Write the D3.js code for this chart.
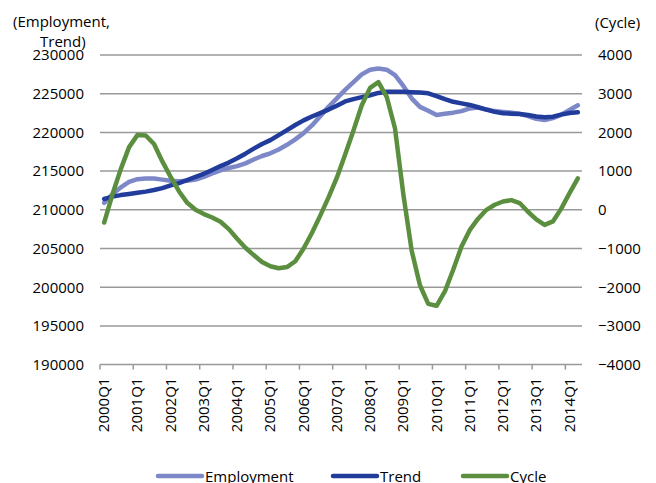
<!DOCTYPE html>
<html>
<head>
<meta charset="utf-8">
<script src="https://cdn.jsdelivr.net/npm/d3@7"></script>
<style>
  body { margin: 0; background: #fff; }
  text { font-family: "Open Sans", sans-serif; fill: #000; }
</style>
</head>
<body>
<div id="container"></div>
<script>
// quarters 2000Q1 .. 2014Q2
var quarters = [];
d3.range(2000, 2015).forEach(function (y) {
    [1, 2, 3, 4].forEach(function (q) { quarters.push(y + "Q" + q); });
});
quarters = quarters.slice(0, 58);

var employment = [
    210900, 212000, 212900, 213600, 213950, 214050, 214050, 213900, 213750, 213700,
    213750, 213900, 214250, 214700, 215100, 215400, 215650, 216000, 216500, 216950,
    217300, 217800, 218400, 219100, 219900, 220900, 222100, 223300, 224400, 225500,
    226500, 227500, 228100, 228250, 228100, 227400, 226000, 224400, 223300, 222800,
    222250, 222400, 222550, 222750, 223100, 223200, 222950, 222750, 222650, 222550,
    222400, 222100, 221750, 221600, 221850, 222300, 222900, 223500
];
var trend = [
    211400, 211700, 211900, 212050, 212200, 212350, 212550, 212800, 213150, 213450,
    213850, 214250, 214650, 215150, 215650, 216100, 216650, 217250, 217900, 218500,
    219000, 219650, 220300, 220950, 221550, 222050, 222500, 222950, 223450, 224000,
    224300, 224550, 224800, 225100, 225250, 225250, 225250, 225200, 225150, 225050,
    224700, 224300, 223950, 223750, 223550, 223250, 222950, 222650, 222480, 222420,
    222380, 222250, 222050, 221950, 222030, 222300, 222500, 222600
];
var cycle = [
    -330, 400, 1050, 1620, 1930, 1920, 1700, 1250, 850, 480,
    180, 0, -110, -200, -310, -500, -750, -980, -1170, -1350,
    -1460, -1510, -1480, -1330, -1000, -600, -150, 320, 830, 1430,
    2050, 2700, 3150, 3300, 2920, 2100, 400, -1050, -1950, -2430,
    -2480, -2110, -1550, -950, -520, -230, 0, 130, 215, 250,
    175, -50, -250, -390, -300, 30, 430, 810
];

var leftTicks = [190000, 195000, 200000, 205000, 210000, 215000, 220000, 225000, 230000];
var rightTicks = [-4000, -3000, -2000, -1000, 0, 1000, 2000, 3000, 4000];
var xTickLabels = quarters.filter(function (q) { return q.slice(4) === "Q1"; });

var series = [
    { name: "Employment", values: employment, axis: "left", color: "#7d88c9" },
    { name: "Trend", values: trend, axis: "left", color: "#213c9b" },
    { name: "Cycle", values: cycle, axis: "right", color: "#5b8f3f" }
];

var plotL = 100, plotR = 582, plotT = 55, plotB = 364.6;

var svg = d3.select("#container").append("svg")
    .attr("width", 656)
    .attr("height", 483);

var x = d3.scaleBand().domain(quarters).range([plotL, plotR]).padding(0);
var yL = d3.scaleLinear().domain([190000, 230000]).range([plotB, plotT]);
var yR = d3.scaleLinear().domain([-4000, 4000]).range([plotB, plotT]);

// gridlines
svg.append("g").selectAll("line")
    .data(leftTicks)
    .enter().append("line")
    .attr("x1", plotL)
    .attr("x2", plotR)
    .attr("y1", function (d) { return yL(d); })
    .attr("y2", function (d) { return yL(d); })
    .attr("stroke", "#999")
    .attr("stroke-width", 1.5);

// bottom tick marks
svg.append("g").selectAll("line")
    .data(xTickLabels)
    .enter().append("line")
    .attr("x1", function (d) { return x(d); })
    .attr("x2", function (d) { return x(d); })
    .attr("y1", plotB)
    .attr("y2", plotB + 5)
    .attr("stroke", "#999")
    .attr("stroke-width", 1.5);

// left axis
var axL = svg.append("g")
    .attr("transform", "translate(84,0)")
    .call(d3.axisLeft(yL).tickValues(leftTicks).tickSize(0).tickPadding(0).tickFormat(d3.format("d")));
axL.select(".domain").remove();
axL.selectAll("text").style("font-size", "15px").style("font-family", "Open Sans");

// right axis
var axR = svg.append("g")
    .attr("transform", "translate(598,0)")
    .call(d3.axisRight(yR).tickValues(rightTicks).tickSize(0).tickPadding(0).tickFormat(d3.format("d")));
axR.select(".domain").remove();
axR.selectAll("text").style("font-size", "15px").style("font-family", "Open Sans")
    .attr("text-anchor", "start");

// x labels
svg.append("g").selectAll("text")
    .data(xTickLabels)
    .enter().append("text")
    .attr("transform", function (d) {
        return "translate(" + (x(d) + x.bandwidth() / 2 + 5) + "," + (plotB + 13) + ") rotate(-90)";
    })
    .attr("text-anchor", "end")
    .style("font-size", "15px")
    .text(function (d) { return d; });

// axis titles
svg.append("text").attr("x", 13).attr("y", 27).style("font-size", "15px").text("(Employment,");
svg.append("text").attr("x", 40).attr("y", 47).style("font-size", "15px").text("Trend)");
svg.append("text").attr("x", 595).attr("y", 28).style("font-size", "15px").text("(Cycle)");

// lines
series.forEach(function (s) {
    var y = s.axis === "left" ? yL : yR;
    var line = d3.line()
        .x(function (d, i) { return x(quarters[i]) + x.bandwidth() / 2; })
        .y(function (d) { return y(d); });
    svg.append("path")
        .datum(s.values)
        .attr("d", line)
        .attr("fill", "none")
        .attr("stroke", s.color)
        .attr("stroke-width", 4.5)
        .attr("stroke-linejoin", "round")
        .attr("stroke-linecap", "round");
});

// legend
var legendX = [158, 333, 463];
var legend = svg.append("g").selectAll("g")
    .data(series)
    .enter().append("g")
    .attr("transform", function (d, i) { return "translate(" + legendX[i] + ",476)"; });
legend.append("line")
    .attr("x1", 0).attr("x2", 44)
    .attr("y1", 0).attr("y2", 0)
    .attr("stroke", function (d) { return d.color; })
    .attr("stroke-width", 4.5)
    .attr("stroke-linecap", "round");
legend.append("text")
    .attr("x", 47)
    .attr("y", 6)
    .style("font-size", "15px")
    .text(function (d) { return d.name; });
</script>
</body>
</html>
